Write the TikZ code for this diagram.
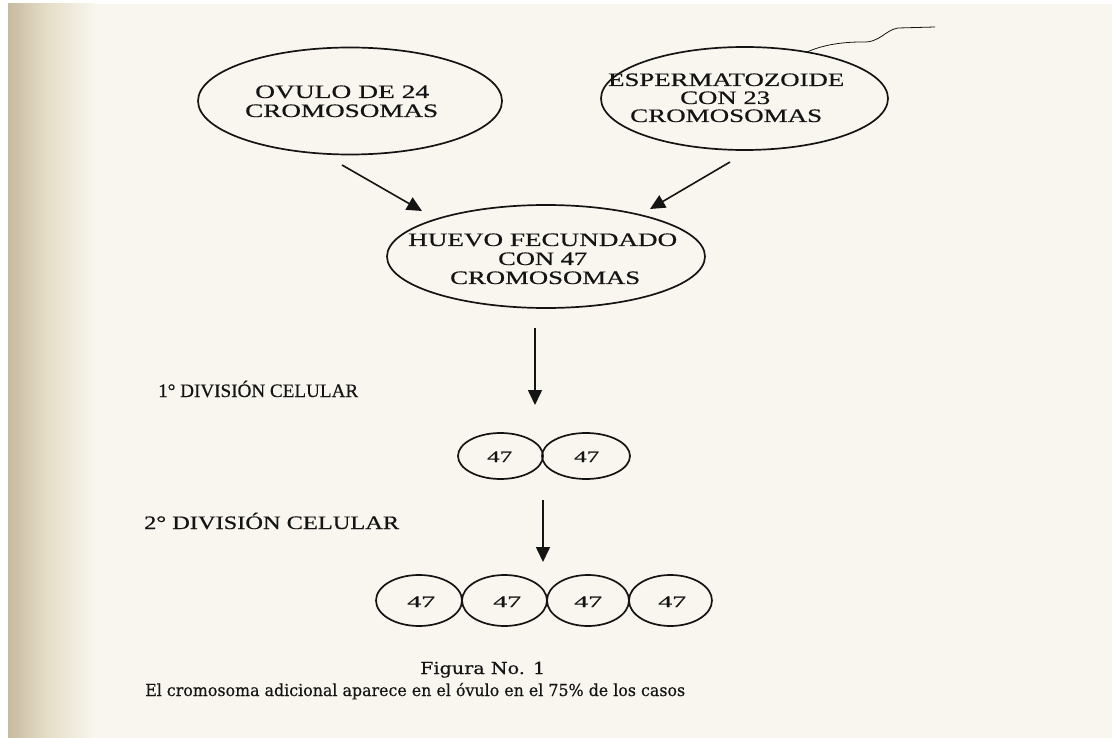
\documentclass[tikz,border=0pt]{standalone}
\usepackage{fontspec}
\setmainfont[FakeBold=0.5]{Liberation Serif}
\newfontfamily\capfont[FakeBold=0.4]{DejaVu Serif}
\usepackage{graphicx}
\usetikzlibrary{shapes.geometric,arrows.meta}
\definecolor{paper}{HTML}{F8F6EE}
\definecolor{papertan}{HTML}{C6BA9F}
\definecolor{papermid}{HTML}{E4DCC7}
\definecolor{ink}{HTML}{141414}
\newcommand\tw[3]{\resizebox{#1pt}{\height}{\fontsize{#2}{#2}\selectfont #3}}
\newcommand\tc[3]{\resizebox{#1pt}{\height}{\capfont\fontsize{#2}{#2}\selectfont #3}}
\begin{document}
\begin{tikzpicture}[x=1pt,y=-1pt,
  ell/.style={draw=ink, line width=1.7pt, ellipse, inner sep=0pt},
  lbl/.style={inner sep=0pt, anchor=base west, text=ink},
  arr/.style={draw=ink, line width=1.6pt, -{Triangle[length=15pt,width=14pt]}},
  wisp/.style={draw=ink, line width=0.8pt}
]
\useasboundingbox (0,0) rectangle (1112,738);
\fill[paper] (0,0) rectangle (1112,738);
\fill[white] (0,0) rectangle (1112,4);
\fill[white] (0,0) rectangle (8,738);
\shade[left color=papertan, right color=papermid] (8,4) rectangle (45,738);
\shade[left color=papermid, right color=paper] (45,4) rectangle (95,738);

% top ellipses
\node[ell, minimum width=304pt, minimum height=107pt] (ovulo) at (350,101) {};
\node[lbl] (ov1) at (255,98) {\tw{174}{19}{OVULO DE 24}};
\node[lbl] (ov2) at (245,117) {\tw{193}{19}{CROMOSOMAS}};

\node[ell, minimum width=287pt, minimum height=103pt] (esperma) at (744.5,98.5) {};
\node[lbl] (es1) at (608,86) {\tw{236}{19}{ESPERMATOZOIDE}};
\node[lbl] (es2) at (680,104) {\tw{90}{19}{CON 23}};
\node[lbl] (es3) at (630,122) {\tw{192}{19}{CROMOSOMAS}};

% stray pen line on top of right ellipse
\coordinate (w1) at (807,52);
\coordinate (w2) at (935,27);
\draw[wisp] (w1) .. controls (825,44) and (845,42) .. (862,42) .. controls (880,43) and (885,30) .. (898,28) -- (w2);

% middle ellipse
\node[ell, minimum width=318pt, minimum height=103pt] (huevo) at (546,256.5) {};
\node[lbl] (hu1) at (408,246) {\tw{269}{19}{HUEVO FECUNDADO}};
\node[lbl] (hu2) at (498,265) {\tw{89}{19}{CON 47}};
\node[lbl] (hu3) at (450,284) {\tw{190}{19}{CROMOSOMAS}};

\coordinate (a1s) at (342,165); \coordinate (a1e) at (422,211);
\coordinate (a2s) at (730,162); \coordinate (a2e) at (650,209);
\draw[arr] (a1s) -- (a1e);
\draw[arr] (a2s) -- (a2e);

% first division
\node[lbl] (d1) at (158,397) {\tw{200}{19}{1° DIVISIÓN CELULAR}};
\coordinate (v1s) at (535,328); \coordinate (v1e) at (535,405);
\draw[arr] (v1s) -- (v1e);
\node[ell, minimum width=85pt, minimum height=46pt] (c1) at (500.5,456) {};
\node[ell, minimum width=88pt, minimum height=46pt] (c2) at (586,456) {};
\node[lbl] (n1) at (487,462) {\tw{25}{16}{47}};
\node[lbl] (n2) at (574,462) {\tw{25}{16}{47}};

% second division
\node[lbl] (d2) at (144,529) {\tw{255}{19}{2° DIVISIÓN CELULAR}};
\coordinate (v2s) at (543,500); \coordinate (v2e) at (543,562);
\draw[arr] (v2s) -- (v2e);
\node[ell, minimum width=86pt, minimum height=51pt] (e1) at (419,600.5) {};
\node[ell, minimum width=85pt, minimum height=51pt] (e2) at (504.5,600.5) {};
\node[ell, minimum width=82pt, minimum height=51pt] (e3) at (588,600.5) {};
\node[ell, minimum width=83pt, minimum height=51pt] (e4) at (670.5,600.5) {};
\node[lbl] (m1) at (407,607) {\tw{28}{16}{47}};
\node[lbl] (m2) at (493,607) {\tw{28}{16}{47}};
\node[lbl] (m3) at (574,607) {\tw{28}{16}{47}};
\node[lbl] (m4) at (658,607) {\tw{28}{16}{47}};

% caption
\node[lbl] (fig) at (420,674) {\tc{125}{16.5}{Figura No. 1}};
\node[lbl] (cap) at (145,696) {\tc{540}{16.5}{El cromosoma adicional aparece en el óvulo en el 75\% de los casos}};
\end{tikzpicture}
\end{document}
